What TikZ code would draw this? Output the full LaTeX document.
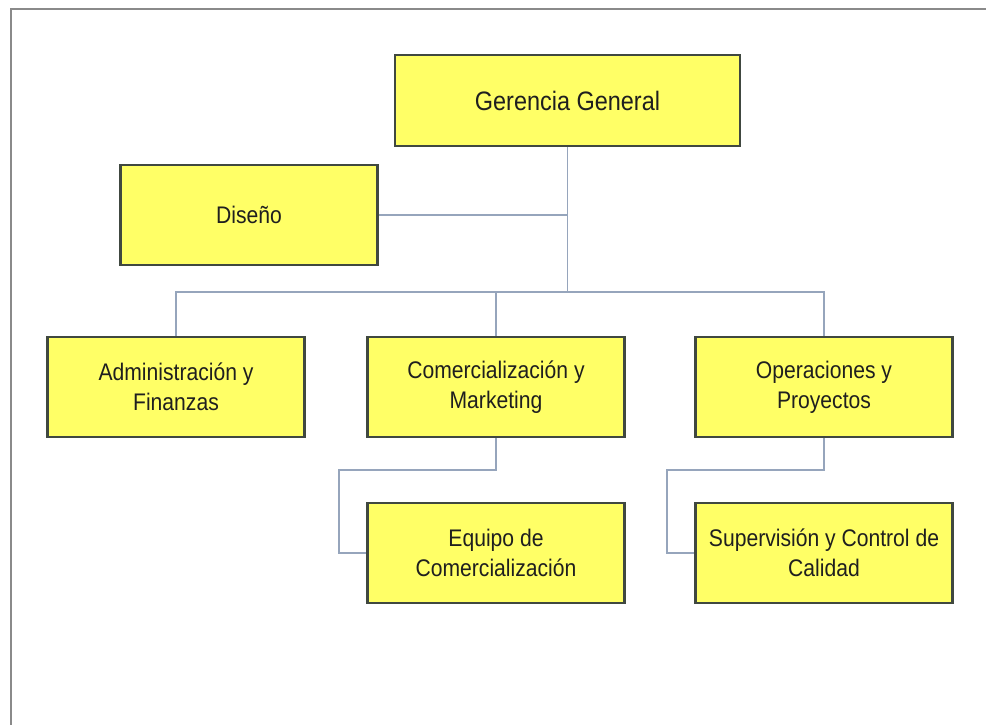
\documentclass[tikz,border=0pt]{standalone}
\usepackage{fontspec}
\setmainfont{Liberation Sans}[FakeStretch=0.88]
\definecolor{boxfill}{RGB}{255,255,102}
\definecolor{boxline}{RGB}{64,72,64}
\definecolor{linkline}{RGB}{150,165,188}
\definecolor{framegray}{RGB}{138,138,138}
\begin{document}
\begin{tikzpicture}[x=0.75pt,y=-0.75pt,
  unit/.style={draw=boxline,line width=1.9pt,fill=boxfill,text=black!88,align=center,
    minimum width=192.75pt,minimum height=75pt,inner sep=0pt,
    font=\fontsize{18pt}{22.5pt}\selectfont},
  link/.style={draw=linkline,line width=1.1pt}]
\useasboundingbox (0,0) rectangle (986,725);
\draw[framegray,line width=1.5pt] (986,9) -| (11,725);

\node[unit,minimum width=258.75pt,minimum height=68.25pt,font=\fontsize{20pt}{24pt}\selectfont] (ger) at (567.5,100.5) {Gerencia General};
\node[unit] (dis) at (249,215) {Diseño};

\foreach \n/\x/\t in {adm/176/{Administración y\\Finanzas},com/496/{Comercialización y\\Marketing},ope/824/{Operaciones y\\Proyectos}}
  \node[unit] (\n) at (\x,387) {\t};

\node[unit] (equ) at (496,553) {Equipo de\\Comercialización};
\node[unit] (sup) at (824,553) {Supervisión y Control de\\Calidad};

\coordinate (bus) at (0,292);
\coordinate (cb) at (339,470);
\coordinate (ob) at (667,470);

\draw[link] (ger.south) -- (ger.south |- bus);
\draw[link] (dis.east) -- (dis.east -| ger.south);
\draw[link] (adm.north) |- (ope.north |- bus) -- (ope.north);
\draw[link] (com.north) -- (com.north |- bus);
\draw[link] (com.south) |- (cb) |- (equ.west);
\draw[link] (ope.south) |- (ob) |- (sup.west);
\end{tikzpicture}
\end{document}
